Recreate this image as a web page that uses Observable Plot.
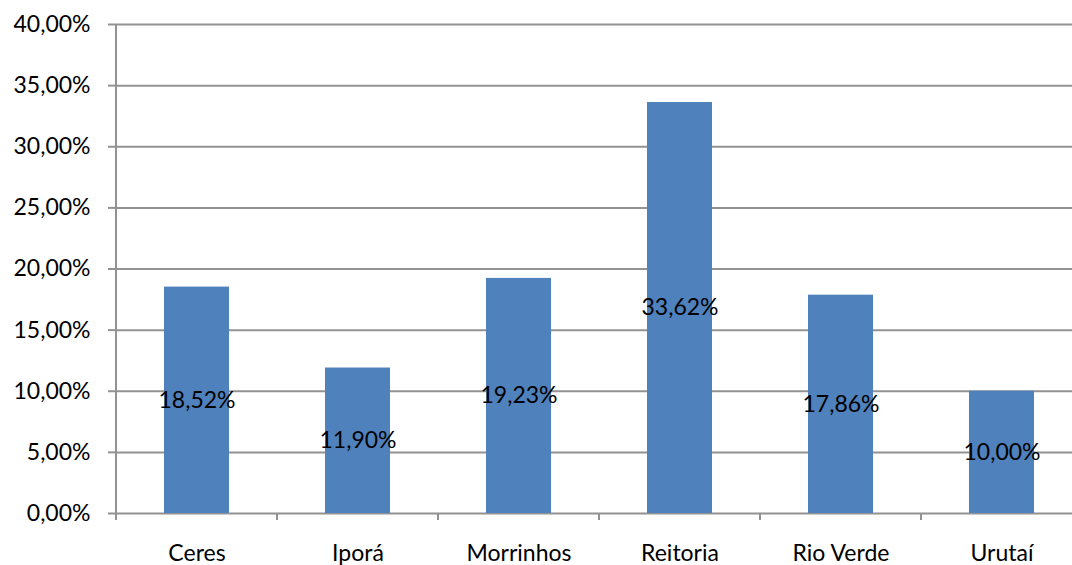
<!DOCTYPE html>
<html>
<head>
<meta charset="utf-8">
<script src="https://cdn.jsdelivr.net/npm/d3@7"></script>
<script src="https://cdn.jsdelivr.net/npm/@observablehq/plot@0.6"></script>
<style>
  html, body { margin: 0; padding: 0; background: #fff; }
  svg { display: block; font-family: Lato, "Open Sans", sans-serif; }
</style>
</head>
<body>
<div id="chart"></div>
<script>
const categories = ["Ceres", "Iporá", "Morrinhos", "Reitoria", "Rio Verde", "Urutaí"];
const values = [18.52, 11.90, 19.23, 33.62, 17.86, 10.00];
const yTicks = [0, 5, 10, 15, 20, 25, 30, 35, 40];

const data = categories.map((c, i) => ({cat: c, value: values[i]}));
const fmt = v => v.toFixed(2).replace(".", ",") + "%";
const gridColor = "#929292";
const fs = 23;

function axisLines(index, scales, values, dims) {
  const x = scales.x, y = scales.y;
  const g = d3.create("svg:g").attr("stroke", gridColor).attr("stroke-width", 2);
  const step = x.step(), bw = x.bandwidth();
  const y0 = y(0), yTop = y(40);
  const left = x(categories[0]) - (step - bw) / 2;
  g.append("line").attr("x1", left).attr("x2", left).attr("y1", yTop).attr("y2", y0 + 7);
  for (let i = 1; i <= categories.length; i++) {
    const bx = left + i * step;
    g.append("line").attr("x1", bx).attr("x2", bx).attr("y1", y0).attr("y2", y0 + 7);
  }
  return g.node();
}

const chart = Plot.plot({
  width: 1072,
  height: 565,
  marginLeft: 116,
  marginRight: -10,
  marginTop: 24,
  marginBottom: 52,
  style: {fontSize: fs + "px", fontFamily: "Lato, 'Open Sans', sans-serif", color: "#000"},
  x: {domain: categories, paddingInner: 0.595, paddingOuter: 0.2975, align: 0.5, label: null},
  y: {domain: [0, 40], label: null},
  marks: [
    Plot.ruleY(yTicks, {stroke: gridColor, strokeWidth: 2, strokeOpacity: 1}),
    Plot.barY(data, {x: "cat", y: "value", fill: "#4F81BD"}),
    axisLines,
    Plot.axisY({ticks: yTicks, tickFormat: fmt, tickSize: 8, tickPadding: 18, stroke: gridColor, strokeWidth: 2, strokeOpacity: 1, fill: "#000", fontSize: fs, label: null}),
    Plot.axisX({tickSize: 0, tickPadding: 31, fill: "#000", fontSize: fs, label: null}),
    Plot.text(data, {x: "cat", y: d => d.value / 2, text: d => fmt(d.value), fill: "#000", fontSize: fs})
  ]
});
document.getElementById("chart").appendChild(chart);
</script>
</body>
</html>
